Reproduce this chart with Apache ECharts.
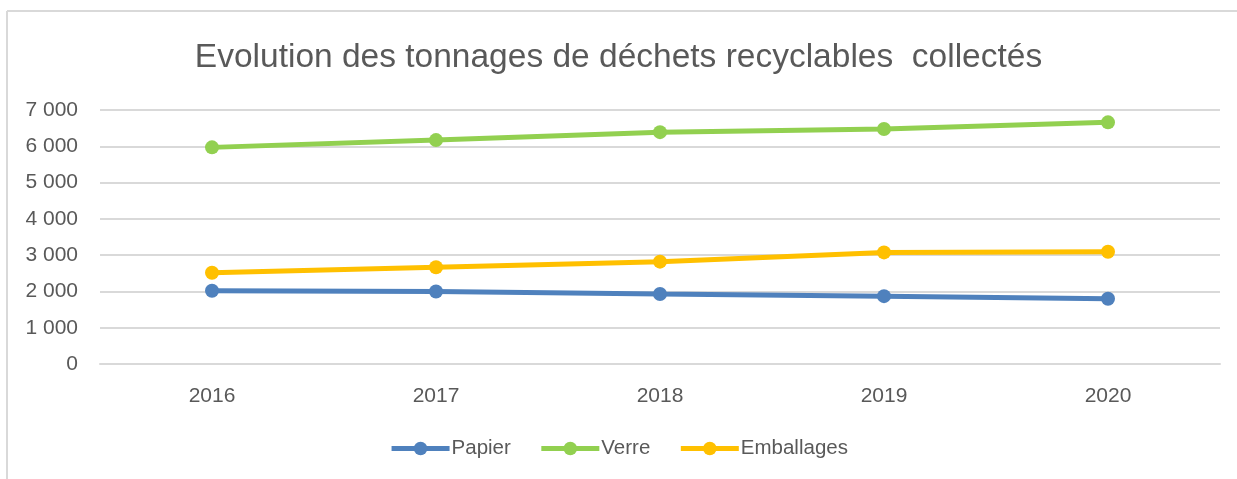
<!DOCTYPE html>
<html>
<head>
<meta charset="utf-8">
<script src="https://cdn.jsdelivr.net/npm/echarts@6/dist/echarts.min.js"></script>
<style>
  html, body { margin: 0; padding: 0; background: #fff; }
  #chart { width: 1237px; height: 479px; }
</style>
</head>
<body>
<div id="chart"></div>
<script>
// données
const years = ['2016', '2017', '2018', '2019', '2020']
const papier = [2020, 2000, 1930, 1870, 1800]
const verre = [5970, 6170, 6390, 6475, 6660]
const emballages = [2515, 2665, 2820, 3075, 3095]

const textColor = '#595959'
const font = 'Liberation Sans, Arial, sans-serif'

// séparateur de milliers avec espace
const fmt = v => String(v).replace(/\B(?=(\d{3})+(?!\d))/g, ' ')

const mkSeries = (name, data, color) => ({
  name,
  type: 'line',
  data,
  symbol: 'circle',
  symbolSize: 14,
  lineStyle: { width: 5, color },
  itemStyle: { color },
  z: 3
})

const chart = echarts.init(document.getElementById('chart'))
chart.setOption({
  animation: false,
  backgroundColor: '#fff',
  title: {
    text: 'Evolution des tonnages de déchets recyclables  collectés',
    left: 'center',
    top: 36,
    textStyle: { fontSize: 33.5, fontWeight: 'normal', color: textColor, fontFamily: font }
  },
  graphic: [
    { type: 'line', shape: { x1: 7, y1: 11, x2: 1237, y2: 11 }, style: { stroke: '#d9d9d9', lineWidth: 2 } },
    { type: 'line', shape: { x1: 7, y1: 11, x2: 7, y2: 479 }, style: { stroke: '#d9d9d9', lineWidth: 2 } }
  ],
  legend: {
    bottom: 15,
    left: 'center',
    itemWidth: 58,
    itemHeight: 17,
    itemGap: 28,
    lineStyle: { width: 5 },
    textStyle: { fontSize: 20.5, color: textColor, fontFamily: font, padding: [0, 0, 0, -3] },
    data: ['Papier', 'Verre', 'Emballages']
  },
  grid: { left: 100, right: 17, top: 110, bottom: 115 },
  xAxis: {
    type: 'category',
    data: years,
    boundaryGap: true,
    axisLine: { lineStyle: { color: '#d9d9d9', width: 2 } },
    axisTick: { show: false },
    axisLabel: { fontSize: 21, color: textColor, fontFamily: font, margin: 22 }
  },
  yAxis: {
    type: 'value',
    min: 0,
    max: 7000,
    interval: 1000,
    axisLine: { show: false },
    axisTick: { show: false },
    splitLine: { lineStyle: { color: '#d9d9d9', width: 2 } },
    axisLabel: { fontSize: 21, color: textColor, fontFamily: font, margin: 22, formatter: fmt }
  },
  series: [
    mkSeries('Papier', papier, '#4f81bd'),
    mkSeries('Verre', verre, '#92d050'),
    mkSeries('Emballages', emballages, '#ffc000')
  ]
})
</script>
</body>
</html>
